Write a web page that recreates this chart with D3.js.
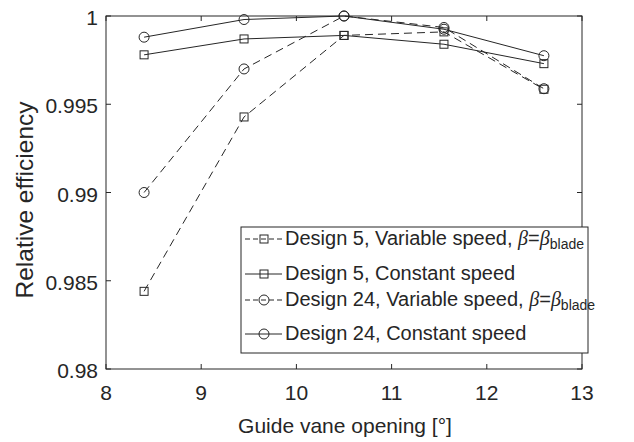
<!DOCTYPE html>
<html>
<head>
<meta charset="utf-8">
<script src="https://cdn.jsdelivr.net/npm/d3@7"></script>
<style>
  body { margin: 0; background: #fff; }
  text { font-family: "Liberation Sans", Arial, sans-serif; fill: #262626; }
</style>
</head>
<body>
<svg id="chart" width="634" height="442"></svg>
<script>
// --- data ---
const opening = [8.4, 9.45, 10.5, 11.55, 12.6];
const d5Variable = [0.9844, 0.99428, 0.9989, 0.9991, 0.99585];
const d5Constant = [0.9978, 0.9987, 0.9989, 0.9984, 0.9973];
const d24Variable = [0.9900, 0.9970, 1.0, 0.99935, 0.99588];
const d24Constant = [0.9988, 0.9998, 1.0, 0.99925, 0.99775];
const xTicks = [8, 9, 10, 11, 12, 13];
const yTicks = [0.98, 0.985, 0.99, 0.995, 1];

const series = [
  { name: "Design 5, Variable speed, ", values: d5Variable, marker: "square", dashed: true, beta: true },
  { name: "Design 5, Constant speed", values: d5Constant, marker: "square", dashed: false, beta: false },
  { name: "Design 24, Variable speed, ", values: d24Variable, marker: "circle", dashed: true, beta: true },
  { name: "Design 24, Constant speed", values: d24Constant, marker: "circle", dashed: false, beta: false },
];

const svg = d3.select("#chart");
const ink = "#262626";
const plot = { left: 106, right: 582, top: 16, bottom: 369 };

const x = d3.scaleLinear().domain([8, 13]).range([plot.left, plot.right]);
const y = d3.scaleLinear().domain([0.98, 1]).range([plot.bottom, plot.top]);

// box + ticks (MATLAB style, ticks inside)
const tickLen = 5;
const g = svg.append("g");
g.append("rect")
  .attr("x", plot.left).attr("y", plot.top)
  .attr("width", plot.right - plot.left).attr("height", plot.bottom - plot.top)
  .attr("fill", "none").attr("stroke", ink).attr("stroke-width", 1);

xTicks.forEach((t) => {
  g.append("line").attr("x1", x(t)).attr("x2", x(t)).attr("y1", plot.bottom).attr("y2", plot.bottom - tickLen).attr("stroke", ink);
  g.append("line").attr("x1", x(t)).attr("x2", x(t)).attr("y1", plot.top).attr("y2", plot.top + tickLen).attr("stroke", ink);
  g.append("text").attr("x", x(t)).attr("y", plot.bottom + 31)
    .attr("text-anchor", "middle").attr("font-size", 21).text(t);
});
yTicks.forEach((t) => {
  g.append("line").attr("x1", plot.left).attr("x2", plot.left + tickLen).attr("y1", y(t)).attr("y2", y(t)).attr("stroke", ink);
  g.append("line").attr("x1", plot.right).attr("x2", plot.right - tickLen).attr("y1", y(t)).attr("y2", y(t)).attr("stroke", ink);
  g.append("text").attr("x", plot.left - 8).attr("y", y(t) + 9)
    .attr("text-anchor", "end").attr("font-size", 21).text(d3.format("~g")(t));
});

// axis labels
svg.append("text").attr("x", (plot.left + plot.right) / 2 + 1).attr("y", 433)
  .attr("text-anchor", "middle").attr("font-size", 21).text("Guide vane opening [°]");
svg.append("text").attr("transform", "translate(33,200) rotate(-90)")
  .attr("text-anchor", "middle").attr("font-size", 24.5).text("Relative efficiency");

// markers
function drawMarker(sel, type, cx, cy) {
  if (type === "square") {
    sel.append("rect").attr("x", cx - 4).attr("y", cy - 4).attr("width", 8).attr("height", 8)
      .attr("fill", "none").attr("stroke", ink).attr("stroke-width", 1);
  } else {
    sel.append("circle").attr("cx", cx).attr("cy", cy).attr("r", 5)
      .attr("fill", "none").attr("stroke", ink).attr("stroke-width", 1);
  }
}

const line = d3.line().x((d, i) => x(opening[i])).y((d) => y(d));
series.forEach((s) => {
  const sg = svg.append("g");
  sg.append("path").datum(s.values).attr("d", line)
    .attr("fill", "none").attr("stroke", ink).attr("stroke-width", 1)
    .attr("stroke-dasharray", s.dashed ? "8,5" : null);
  s.values.forEach((v, i) => drawMarker(sg, s.marker, x(opening[i]), y(v)));
});

// legend
const lg = svg.append("g");
lg.append("rect").attr("x", 241).attr("y", 227).attr("width", 347).attr("height", 126)
  .attr("fill", "#fff").attr("stroke", ink).attr("stroke-width", 1);
const rowBase = [245, 280, 306, 340];
series.forEach((s, i) => {
  const ry = rowBase[i] - 6;
  lg.append("line").attr("x1", 245).attr("x2", 282).attr("y1", ry).attr("y2", ry)
    .attr("stroke", ink).attr("stroke-width", 1)
    .attr("stroke-dasharray", s.dashed ? "5,3" : null);
  drawMarker(lg, s.marker, 264, ry);
  const t = lg.append("text").attr("x", 285).attr("y", rowBase[i]).attr("font-size", 20);
  t.append("tspan").text(s.name);
  if (s.beta) {
    t.append("tspan").attr("font-family", "'Liberation Serif', serif").attr("font-style", "italic").text("β");
    t.append("tspan").text("=");
    t.append("tspan").attr("font-family", "'Liberation Serif', serif").attr("font-style", "italic").text("β");
    t.append("tspan").attr("font-size", 14).attr("dy", 4).text("blade");
  }
});
</script>
</body>
</html>
